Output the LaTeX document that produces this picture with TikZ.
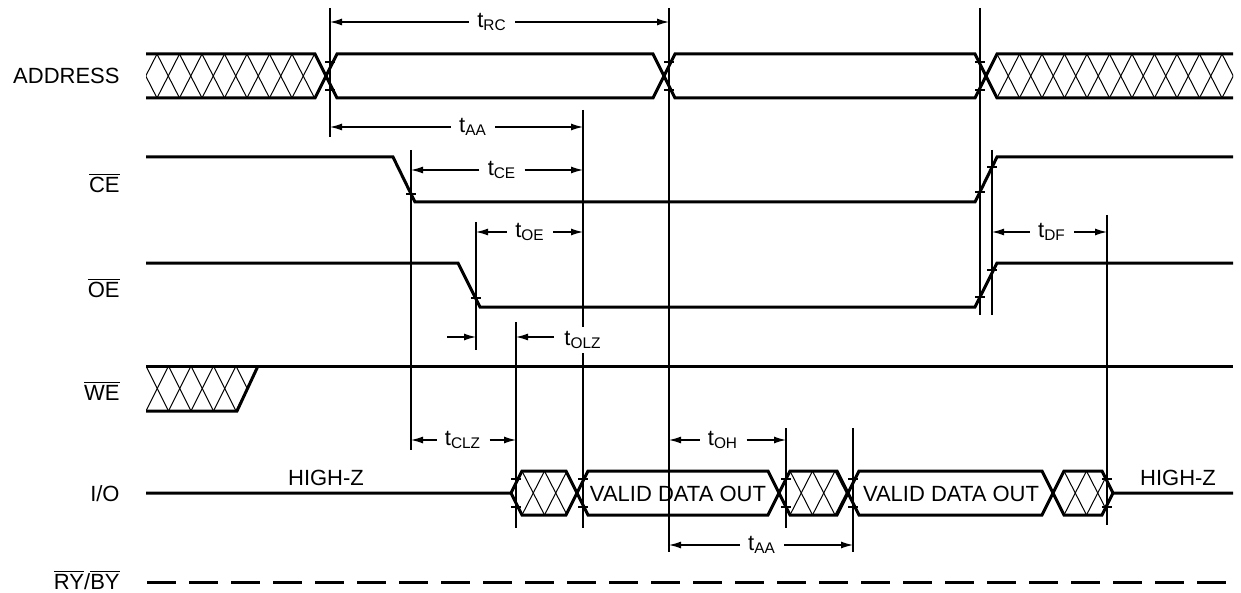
\documentclass[tikz,border=0pt]{standalone}
\usepackage{fontspec}
\setmainfont{Liberation Sans}
\usetikzlibrary{arrows.meta}
\tikzset{
  sigline/.style={draw=black, line width=1.5pt, line join=miter},
  hatchline/.style={draw=black, line width=0.5pt}
}
\newcommand{\hatchzone}[4]{%
  \begin{scope}
    \clip #4;
    \foreach \k in {-32,...,32}{
      \draw[hatchline] ({#3+\k*22.5},#1) -- ({#3+(\k+1)*22.5},#2);
      \draw[hatchline] ({#3+\k*22.5},#1) -- ({#3+(\k-1)*22.5},#2);
    }
  \end{scope}%
}
\newcommand{\timedim}[6]{%
  \coordinate (#1-l) at (#2,#4);
  \coordinate (#1-r) at (#3,#4);
  \node[dimlabel] (#1) at (#5,#4) {#6};
  \draw[dimarrow] (#1) -- (#1-l);
  \draw[dimarrow] (#1) -- (#1-r);%
}
\newcommand{\sigbar}[1]{$\overline{\mbox{#1}}$}

\begin{document}
\begin{tikzpicture}[x=0.5pt,y=-0.5pt]

  % --- styles ---
  \tikzset{
    timeline/.style={draw=black, line width=0.6pt},
    tickmark/.style={draw=black, line width=0.6pt},
    dimarrow/.style={draw=black, line width=0.6pt, -{Latex[length=6pt,width=3.5pt]}},
    dimlabel/.style={inner sep=4pt, font=\fontsize{11}{13}\selectfont},
    siglabel/.style={anchor=east, inner sep=0pt, font=\fontsize{11}{13}\selectfont},
    bustext/.style={inner sep=0pt, font=\fontsize{11}{13}\selectfont},
    rybyline/.style={draw=black, line width=1.5pt, dash pattern=on 14.5pt off 6.5pt},
  }
  \useasboundingbox (0,0) rectangle (1241,593);

  % =========================
  %  SIGNAL NAMES
  % =========================

  \node[siglabel] (addr) at (120,76) {ADDRESS};
  \node[siglabel] (ce)   at (120,183) {\sigbar{CE}};
  \node[siglabel] (oe)   at (120,288) {\sigbar{OE}};
  \node[siglabel] (we)   at (120,391) {\sigbar{WE}};
  \node[siglabel] (io)   at (120,494) {I/O};
  \node[siglabel] (ryby) at (120,580) {\sigbar{RY}/\sigbar{BY}};

  % =========================
  %  WAVEFORMS
  % =========================

  % address
  \hatchzone{54}{98}{157}{(146,54) -- (315,54) -- (326,76) -- (315,98) -- (146,98) -- cycle}
  \hatchzone{54}{98}{997}{(986,76) -- (997,54) -- (1233,54) -- (1233,98) -- (997,98) -- cycle}
  \draw[sigline] (146,54) -- (315,54) -- (337,98) -- (653,98) -- (675,54)
    -- (975,54) -- (997,98) -- (1233,98);
  \draw[sigline] (146,98) -- (315,98) -- (337,54) -- (653,54) -- (675,98)
    -- (975,98) -- (997,54) -- (1233,54);

  % chip enable
  \draw[sigline] (146,157) -- (393,157) -- (415,202) -- (975,202) -- (997,157) -- (1233,157);

  % output enable
  \draw[sigline] (146,263) -- (458,263) -- (480,307) -- (975,307) -- (997,263) -- (1233,263);

  % write enable
  \hatchzone{366}{411}{146}{(146,366) -- (258,366) -- (237,411) -- (146,411) -- cycle}
  \draw[sigline] (146,366) -- (1233,366);
  \draw[sigline] (146,411) -- (237,411) -- (258,366);

  % data bus
  \hatchzone{471}{515}{522}{(511,493) -- (522,471) -- (566,471) -- (577,493) -- (566,515) -- (522,515) -- cycle}
  \hatchzone{471}{515}{790}{(779,493) -- (790,471) -- (837,471) -- (848,493) -- (837,515) -- (790,515) -- cycle}
  \hatchzone{471}{515}{1064}{(1053,493) -- (1064,471) -- (1102,471) -- (1113,493) -- (1102,515) -- (1064,515) -- cycle}
  \draw[sigline] (146,493) -- (511,493) -- (522,471) -- (566,471) -- (588,515) -- (768,515)
    -- (790,471) -- (837,471) -- (859,515) -- (1042,515) -- (1064,471) -- (1102,471)
    -- (1113,493) -- (1233,493);
  \draw[sigline] (511,493) -- (522,515) -- (566,515) -- (588,471) -- (768,471)
    -- (790,515) -- (837,515) -- (859,471) -- (1042,471) -- (1064,515) -- (1102,515)
    -- (1113,493);
  \node[bustext] (hz1) at (326,478) {HIGH-Z};
  \node[bustext] (hz2) at (1178,478) {HIGH-Z};
  \node[bustext] (vd1) at (678,494) {VALID DATA OUT};
  \node[bustext] (vd2) at (951,494) {VALID DATA OUT};

  % ready / busy
  \draw[rybyline] (147,582) -- (1233,582);

  % =========================
  %  TIMING REFERENCES
  % =========================

  \foreach \x/\ya/\yb in {330/8/137, 669/8/552, 980/8/315, 992/150/315,
      583/110/528, 411/150/450, 476/222/350, 516/322/528,
      786/428/528, 853/428/552, 1107/215/525}
    \draw[timeline] (\x,\ya) -- (\x,\yb);

  \foreach \x/\y in {330/62, 330/90, 669/62, 669/90, 980/62, 980/90,
      411/194, 980/192, 992/167, 476/298, 980/297, 992/270,
      516/479, 516/507, 583/479, 583/507, 786/479, 786/507,
      853/479, 853/507, 1107/479, 1107/507}
    \draw[tickmark] (\x-5,\y) -- (\x+5,\y);

  \timedim{trc}{330}{669}{22}{492}{t\textsubscript{RC}}
  \timedim{taa}{330}{583}{127}{473}{t\textsubscript{AA}}
  \timedim{tce}{411}{583}{170}{502}{t\textsubscript{CE}}
  \timedim{toe}{476}{583}{232}{530}{t\textsubscript{OE}}
  \timedim{tdf}{992}{1107}{232}{1052}{t\textsubscript{DF}}
  \timedim{tclz}{411}{516}{440}{463}{t\textsubscript{CLZ}}
  \timedim{toh}{669}{786}{440}{723}{t\textsubscript{OH}}
  \timedim{tab}{669}{853}{545}{762}{t\textsubscript{AA}}

  \coordinate (olzin) at (447,337);
  \coordinate (olza) at (476,337);
  \coordinate (olzb) at (516,337);
  \node[dimlabel, fill=white, inner sep=2pt] (tolz) at (583,340) {t\textsubscript{OLZ}};
  \draw[dimarrow] (olzin) -- (olza);
  \draw[dimarrow] (tolz.west |- olzb) ++(-6,0) -- (olzb);

\end{tikzpicture}
\end{document}
